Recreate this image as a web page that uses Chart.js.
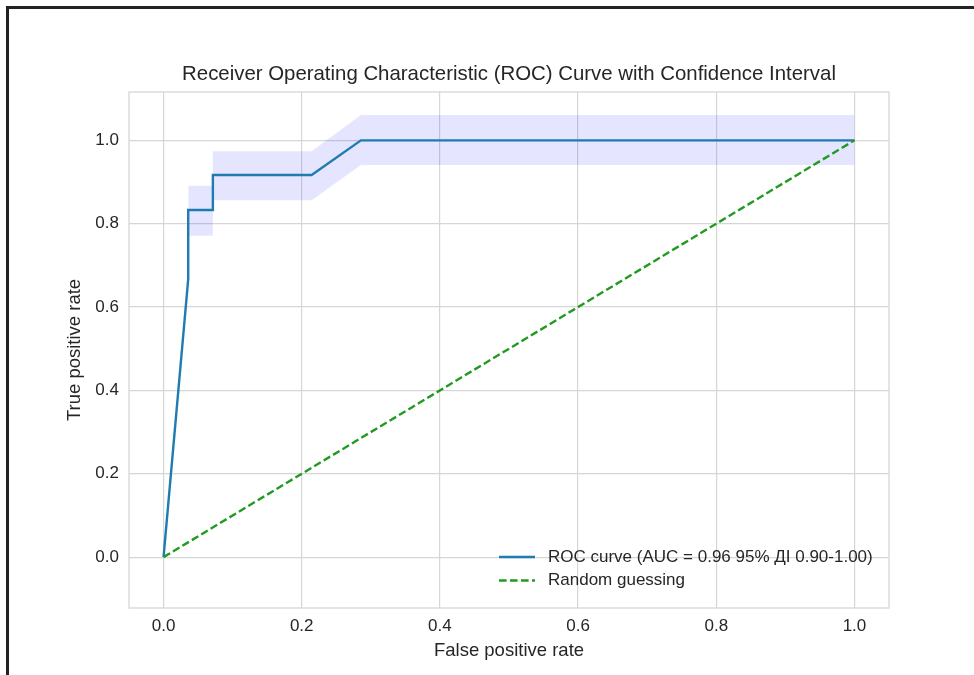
<!DOCTYPE html>
<html>
<head>
<meta charset="utf-8">
<title>ROC curve</title>
<script src="https://cdn.jsdelivr.net/npm/chart.js@4.4.1/dist/chart.umd.min.js"></script>
<style>
    html, body { margin: 0; padding: 0; background: #fff; }
    #wrap { position: relative; width: 974px; height: 675px; overflow: hidden; }
    #frame {
        position: absolute; left: 6px; top: 6px; right: -10px; bottom: -10px;
        border-top: 3px solid #222; border-left: 3px solid #222;
    }
    #chart-box { position: absolute; left: 0; top: 0; width: 974px; height: 675px; }
</style>
</head>
<body>
<div id="wrap">
    <div id="frame"></div>
    <div id="chart-box"><canvas id="roc-chart"></canvas></div>
</div>
<script>
// ROC curve points (false positive rate / true positive rate)
const fprValues = [0, 0.0357, 0.0357, 0.0714, 0.0714, 0.2143, 0.2857, 1.0];
const tprValues = [0, 0.667, 0.833, 0.833, 0.917, 0.917, 1.0, 1.0];

// confidence band around the curve
const ciFpr = [0.0357, 0.0714, 0.0714, 0.2143, 0.2857, 1.0];
const ciLower = [0.771, 0.771, 0.856, 0.856, 0.941, 0.941];
const ciUpper = [0.891, 0.891, 0.974, 0.974, 1.061, 1.061];

// random guessing diagonal
const chanceFpr = [0, 1];
const chanceTpr = [0, 1];

const xTicks = [0, 0.2, 0.4, 0.6, 0.8, 1.0];
const yTicks = [0, 0.2, 0.4, 0.6, 0.8, 1.0];

const rocLabel = 'ROC curve (AUC = 0.96 95% ДІ 0.90-1.00)';
const chanceLabel = 'Random guessing';

const FONT = '"Liberation Sans", Arial, sans-serif';
const TEXT = '#262626';
const GRID = '#d6d6d6';

const toPoints = (xs, ys) => xs.map((x, i) => ({ x: x, y: ys[i] }));

// legend drawn inside the plot, lower right (like matplotlib loc="lower right")
const innerLegend = {
    id: 'innerLegend',
    afterDatasetsDraw(chart) {
        const { ctx, chartArea } = chart;
        const items = chart.data.datasets
            .filter(d => d.legendRow !== undefined)
            .sort((a, b) => a.legendRow - b.legendRow);
        ctx.save();
        ctx.font = '17px ' + FONT;
        ctx.textBaseline = 'middle';
        ctx.textAlign = 'left';
        items.forEach((d, i) => {
            const y = chartArea.bottom - 51 + i * 23.5;
            const x0 = chartArea.right - 390;
            ctx.strokeStyle = d.borderColor;
            ctx.lineWidth = d.borderWidth;
            ctx.setLineDash(d.borderDash || []);
            ctx.beginPath();
            ctx.moveTo(x0, y);
            ctx.lineTo(x0 + 36, y);
            ctx.stroke();
            ctx.setLineDash([]);
            ctx.fillStyle = TEXT;
            ctx.fillText(d.label, x0 + 49, y);
        });
        ctx.restore();
    }
};

// light frame round the plot area (all four spines)
const plotFrame = {
    id: 'plotFrame',
    afterDraw(chart) {
        const { ctx, chartArea } = chart;
        ctx.save();
        ctx.strokeStyle = GRID;
        ctx.lineWidth = 1.3;
        ctx.strokeRect(chartArea.left, chartArea.top,
            chartArea.right - chartArea.left, chartArea.bottom - chartArea.top);
        ctx.restore();
    }
};

const ctx = document.getElementById('roc-chart').getContext('2d');

new Chart(ctx, {
    type: 'line',
    data: {
        datasets: [
            {
                label: chanceLabel,
                legendRow: 1,
                data: toPoints(chanceFpr, chanceTpr),
                borderColor: '#229a22',
                borderWidth: 2.4,
                borderDash: [7.6, 3.4],
                pointRadius: 0,
                fill: false
            },
            {
                label: rocLabel,
                legendRow: 0,
                data: toPoints(fprValues, tprValues),
                borderColor: '#1f7bb0',
                borderWidth: 2.4,
                pointRadius: 0,
                fill: false
            },
            {
                label: 'CI upper',
                data: toPoints(ciFpr, ciUpper),
                borderWidth: 0,
                borderColor: 'rgba(0,0,0,0)',
                backgroundColor: 'rgba(0, 0, 255, 0.1)',
                pointRadius: 0,
                fill: '+1'
            },
            {
                label: 'CI lower',
                data: toPoints(ciFpr, ciLower),
                borderWidth: 0,
                borderColor: 'rgba(0,0,0,0)',
                pointRadius: 0,
                fill: false
            }
        ]
    },
    options: {
        responsive: true,
        maintainAspectRatio: false,
        animation: false,
        layout: {
            padding: { left: 0, right: 85, top: 0, bottom: 0 }
        },
        plugins: {
            legend: { display: false },
            tooltip: { enabled: false },
            title: {
                display: true,
                fullSize: false,
                text: 'Receiver Operating Characteristic (ROC) Curve with Confidence Interval',
                color: TEXT,
                font: { family: FONT, size: 20.4, weight: 'normal' },
                padding: { top: 61.8, bottom: 5.7 }
            }
        },
        scales: {
            x: {
                type: 'linear',
                min: -0.05,
                max: 1.05,
                afterBuildTicks: (scale) => { scale.ticks = xTicks.map(v => ({ value: v })); },
                afterFit: (scale) => { scale.height = 67; },
                grid: { color: GRID, lineWidth: 1.2, drawTicks: false },
                border: { display: false },
                ticks: {
                    color: TEXT,
                    padding: 8,
                    font: { family: FONT, size: 17 },
                    callback: (v) => Number(v).toFixed(1)
                },
                title: {
                    display: true,
                    text: 'False positive rate',
                    color: TEXT,
                    font: { family: FONT, size: 18.5 },
                    padding: { top: 0, bottom: 13 }
                }
            },
            y: {
                type: 'linear',
                min: -0.122,
                max: 1.116,
                afterBuildTicks: (scale) => { scale.ticks = yTicks.map(v => ({ value: v })); },
                afterFit: (scale) => { scale.width = 129; },
                grid: { color: GRID, lineWidth: 1.2, drawTicks: false },
                border: { display: false },
                ticks: {
                    color: TEXT,
                    padding: 10,
                    font: { family: FONT, size: 17 },
                    callback: (v) => Number(v).toFixed(1)
                },
                title: {
                    display: true,
                    text: 'True positive rate',
                    color: TEXT,
                    font: { family: FONT, size: 18.5 },
                    padding: { top: 64, bottom: 0 }
                }
            }
        }
    },
    plugins: [innerLegend, plotFrame]
});
</script>
</body>
</html>
